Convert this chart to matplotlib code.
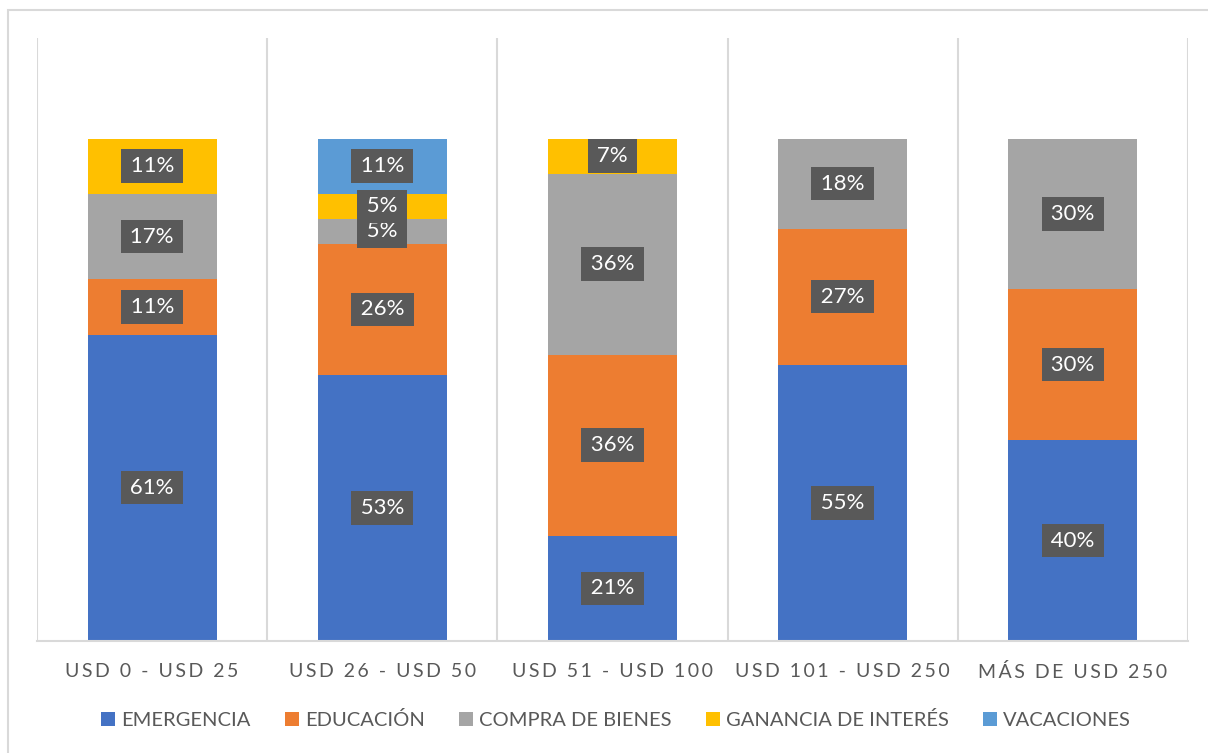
import matplotlib
matplotlib.use("Agg")
import matplotlib.pyplot as plt
import numpy as np
from matplotlib.patches import Rectangle

plt.rcParams['font.family'] = ['Lato', 'DejaVu Sans']

categories = ['USD 0 - USD 25', 'USD 26 - USD 50', 'USD 51 - USD 100',
              'USD 101 - USD 250', 'MÁS DE USD 250']
series = ['EMERGENCIA', 'EDUCACIÓN', 'COMPRA DE BIENES',
          'GANANCIA DE INTERÉS', 'VACACIONES']

emergencia = [61, 53, 21, 55, 40]
educacion = [11, 26, 36, 27, 30]
compra = [17, 5, 36, 18, 30]
ganancia = [11, 5, 7, 0, 0]
vacaciones = [0, 11, 0, 0, 0]

colors = ['#4472C4', '#ED7D31', '#A5A5A5', '#FFC000', '#5B9BD5']
text_color = '#595959'
grid_color = '#D9D9D9'


def tracked(s):
    # wide letter spacing for the category labels
    return '\u2009'.join(s)


fig = plt.figure(figsize=(12.08, 7.53), dpi=100)
ax = fig.add_axes([0.0306, 0.1487, 0.9528, 0.8008])

# outer chart border
fig.patches.append(Rectangle((0.0066, -0.05), 1.2, 1.0367, transform=fig.transFigure,
                             fill=False, edgecolor=grid_color, linewidth=1.5))

x = np.arange(len(categories))
bottom = np.zeros(len(categories))
values = [emergencia, educacion, compra, ganancia, vacaciones]

for name, vals, col in zip(series, values, colors):
    vals = np.array(vals, dtype=float) / 100
    ax.bar(x, vals, 0.56, bottom=bottom, color=col, label=name, zorder=2)
    for xi, v, b in zip(x, vals, bottom):
        if v > 0:
            ax.text(xi, b + v / 2, f'\u2009{round(v * 100)}%\u2009', ha='center',
                    va='center', color='white', fontsize=16, zorder=4,
                    bbox=dict(boxstyle='square,pad=0.3', facecolor='#595959',
                              edgecolor='none'))
    bottom += vals

ax.set_xlim(-0.5, len(categories) - 0.5)
ax.set_ylim(0, 1.2)
ax.set_yticks([])
ax.set_xticks(x)
ax.set_xticklabels([tracked(c) for c in categories], fontsize=14, color=text_color)
ax.tick_params(axis='x', length=0, pad=16)

ax.set_xticks(np.arange(-0.5, len(categories)), minor=True)
ax.tick_params(axis='x', which='minor', length=0)
ax.grid(True, which='minor', axis='x', color=grid_color, linewidth=1.5, zorder=0)

for side in ['top', 'right', 'left']:
    ax.spines[side].set_visible(False)
ax.spines['bottom'].set_color(grid_color)
ax.spines['bottom'].set_linewidth(1.5)

fig.legend(loc='center', bbox_to_anchor=(0.51, 0.044), ncol=5, frameon=False,
           fontsize=14.5, handlelength=0.7, handleheight=0.7, handletextpad=0.3,
           columnspacing=1.7, labelcolor=text_color)

fig.savefig('out.png', dpi=100)
